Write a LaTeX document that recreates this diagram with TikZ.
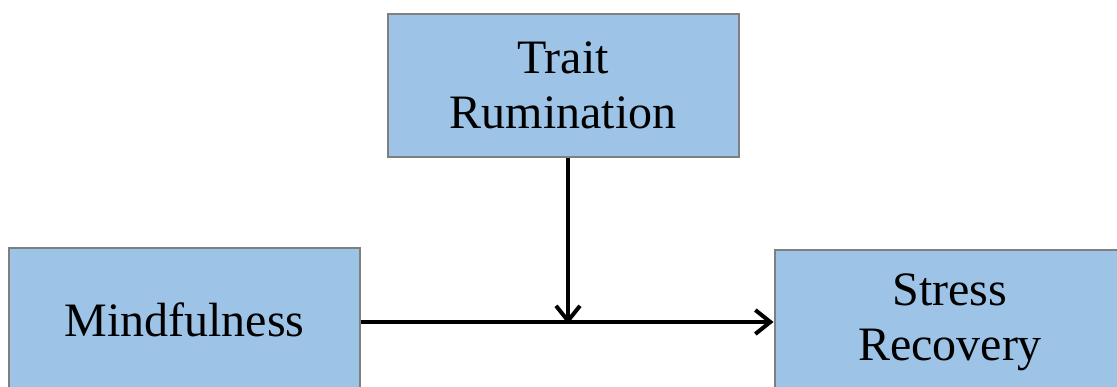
\documentclass[tikz,border=0pt]{standalone}
\usepackage{fontspec}
\setmainfont{Liberation Serif}
\usetikzlibrary{arrows.meta}
\definecolor{boxfill}{HTML}{9DC3E6}
\definecolor{boxline}{HTML}{7F7F7F}
\begin{document}
\begin{tikzpicture}[x=1pt,y=-1pt,
  varbox/.style={draw=boxline, line width=2pt, fill=boxfill, inner sep=0pt,
    minimum width=351pt, minimum height=143pt, align=center,
    font=\fontsize{48pt}{55pt}\selectfont},
  conn/.style={line width=4pt, -{Straight Barb[length=15pt,width=24pt,line width=4pt]}}]
\useasboundingbox (0,0) rectangle (1117,387);
\node[varbox] (t) at (563,85.5) {Trait\\Rumination};
\node[varbox] (m) at (184.5,319.5) {Mindfulness};
\node[varbox] (s) at (950,322) {Stress\\Recovery};
\coordinate (j) at (568,322);
\draw[conn] (m.east |- j) -- (s.west |- j);
\draw[conn] (t.south -| j) -- ([yshift=-2pt]j);
\end{tikzpicture}
\end{document}
